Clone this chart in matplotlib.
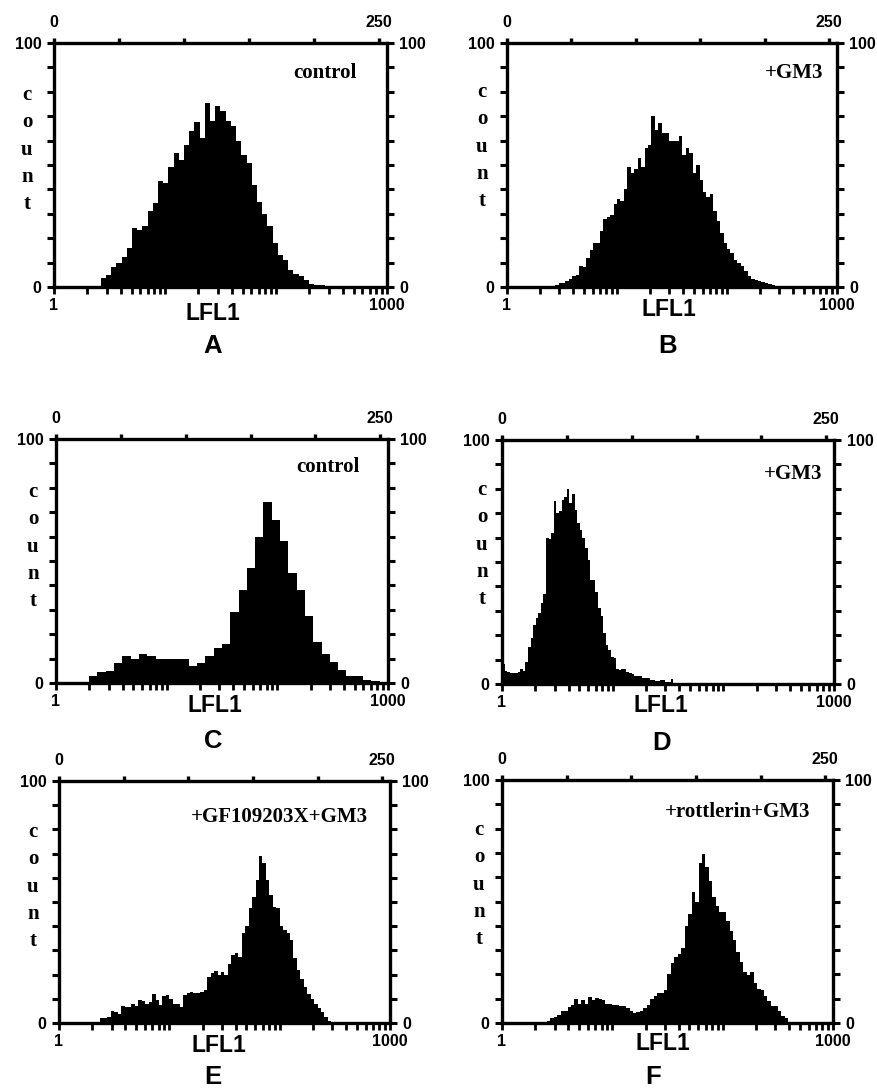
import numpy as np
import matplotlib
matplotlib.use('Agg')
import matplotlib.pyplot as plt

# Flow cytometry histograms, counts on a 0-100 scale.
# Each panel: number of log-spaced bins between 1 and 1000, index of the first
# non-empty bin, and the bin counts from there on.
a_nbins, a_first = 64, 9
a_counts = [3.6, 4.9, 8, 9.7, 12.4, 16, 24, 23.5, 25, 31, 34.5, 43.4, 42.5, 49,
            55, 52, 58, 64, 67.5, 61, 75.5, 68, 74, 72, 68, 66, 60, 54, 51, 42,
            35, 30, 25, 18, 13, 11, 7, 5.5, 4.5, 3, 1.2, 0.9, 0.8, 0.5, 0.3]

b_nbins, b_first = 96, 14
b_counts = [1, 1.8, 1.8, 2.5, 3.1, 4.5, 4.9, 8.5, 8.3, 12, 15, 18.1, 18.1, 23,
            28, 28.8, 29.5, 34, 36, 35.4, 40, 49, 46.6, 48.5, 52.8, 49, 57, 58,
            70, 64.3, 67.4, 63, 63.3, 60, 60, 60, 62, 54, 57, 55, 46.6, 50, 44,
            39, 37, 38, 31, 27, 22, 18, 15.5, 14, 11, 10, 8.5, 6.5, 4.5, 3.2,
            2.8, 2.5, 2, 1.5, 1.2, 0.8, 0.5]

c_nbins, c_first = 40, 4
c_counts = [3, 4.4, 5, 8, 11, 10, 12, 11, 10, 10, 10, 10, 7, 8, 11, 14.5, 16,
            29, 38, 47, 60, 74, 67, 58, 45, 38, 27.5, 17, 12, 8.5, 5.5, 3, 3,
            1.2, 1]

d_nbins, d_first = 128, 0
d_counts = [8, 5.4, 5, 4.6, 4.6, 4.4, 5, 6, 5.4, 9, 15, 19, 24, 26.9, 29, 33,
            37, 59.7, 59.5, 62, 75, 70, 70.7, 75.5, 76.5, 79.8, 74, 77.9, 71.3,
            66, 63, 60, 55.6, 50.8, 42.6, 42.6, 37.8, 31, 28, 20.8, 16, 14, 11,
            10.5, 6, 5.7, 6, 6, 5, 4.4, 4, 3.1, 3.1, 3.1, 2.6, 2.4, 2.4, 1.5,
            1.5, 1.2, 1.2, 1.5, 1.8, 1.0, 0.8, 1.9, 0.5, 0.3]

e_nbins, e_first = 96, 12
e_counts = [1.9, 1.9, 2.5, 5, 4.5, 3.8, 7, 6.5, 6.8, 8, 7, 9.5, 9, 8, 8.5, 12,
            9.5, 7.5, 11, 11.5, 9.8, 8, 8, 6.7, 11.5, 12.5, 13, 12.5, 12.5,
            12.8, 13.6, 19, 20.5, 21.6, 20, 21, 20, 24.5, 28, 29, 27.3, 37, 40,
            47.4, 52, 59, 69, 66, 59, 53, 48, 47.4, 40, 38.6, 37, 34.2, 27, 22,
            18, 15, 12, 10, 8, 6, 4.5, 2.5, 0.8]

f_nbins, f_first = 96, 13
f_counts = [1, 1.9, 2.5, 3.3, 5.1, 5.1, 6.5, 7.5, 9.7, 7.8, 9.5, 8, 10.6, 9.3,
            10.2, 10, 9.3, 8, 7.9, 7.5, 7.4, 7.1, 7, 6, 5, 4, 4.6, 5.1, 6, 7.5,
            10, 11, 12.2, 12.5, 13.6, 20, 24.6, 27.3, 28.5, 31, 40, 45, 54, 50,
            66, 69.5, 64, 58.6, 52, 48, 45.8, 45.8, 42, 38, 34, 29.4, 25, 21,
            19.8, 21, 16.5, 14, 13.6, 11, 9, 7, 7.2, 5, 3, 1.9, 0.5]

panel_letters = ['A', 'B', 'C', 'D', 'E', 'F']
conditions = ['control', '+GM3', 'control', '+GM3',
              '+GF109203X+GM3', '+rottlerin+GM3']
top_ticks = [0, 50, 100, 150, 200, 250]
top_labels = ['0', '', '', '', '', '250']

W, H = 878, 1090
SANS = 'Liberation Sans'
SERIF = 'Liberation Serif'

plt.rcParams['font.family'] = SANS
plt.rcParams['font.weight'] = 'bold'


def px(x, y):
    return x / W, 1 - y / H


# axes boxes in pixels: left, top, right, bottom
boxes = [(54, 43, 387, 287), (507, 43, 837, 287),
         (56, 439, 388, 683), (502, 440, 834, 684),
         (59, 781, 390, 1023), (502, 780, 833, 1023)]
# text anchors in pixels
lfl_pos = [(213, 320), (669, 316), (215, 712), (661, 712), (219, 1052), (663, 1050)]
letter_pos = [(213, 353), (668, 353), (213, 748), (662, 750), (213, 1084), (653, 1084)]
cond_pos = [(357, 78), (823, 78), (360, 472), (822, 479), (368, 822), (810, 817)]
count_pos = [(27, 100), (482, 97), (33, 497), (482, 495), (33, 837), (479, 835)]

data = [(a_nbins, a_first, a_counts), (b_nbins, b_first, b_counts),
        (c_nbins, c_first, c_counts), (d_nbins, d_first, d_counts),
        (e_nbins, e_first, e_counts), (f_nbins, f_first, f_counts)]

fig = plt.figure(figsize=(W / 100, H / 100), dpi=100)

for i, (nbins, first, vals) in enumerate(data):
    l, t, r, b = boxes[i]
    ax = fig.add_axes([l / W, 1 - b / H, (r - l) / W, (b - t) / H])

    counts = np.zeros(nbins)
    counts[first:first + len(vals)] = vals
    edges = np.logspace(0, 3, nbins + 1)
    ax.stairs(counts, edges, fill=True, color='black', baseline=0, linewidth=0)

    ax.set_xscale('log')
    ax.set_xlim(1, 1000)
    ax.set_ylim(0, 100)
    for s in ax.spines.values():
        s.set_linewidth(2.4)

    # bottom log axis
    ax.set_xticks([1, 10, 100, 1000])
    ax.set_xticklabels(['1', '', '', '1000'])
    ax.xaxis.set_minor_locator(matplotlib.ticker.LogLocator(base=10, subs=range(2, 10)))
    ax.xaxis.set_minor_formatter(matplotlib.ticker.NullFormatter())
    ax.tick_params(axis='x', which='both', direction='out', length=5, width=2,
                   labelsize=11.5, pad=3)

    # count axes on both sides
    ax.set_yticks(np.arange(0, 101, 10))
    ax.set_yticklabels(['0'] + [''] * 9 + ['100'])
    ax.tick_params(axis='y', which='both', direction='out', length=5, width=2.2,
                   left=True, right=True, labelleft=True, labelright=True,
                   labelsize=11.5, pad=4)

    # channel axis on top
    top = ax.twiny()
    top.set_xlim(0, 256)
    top.set_xticks(top_ticks)
    top.set_xticklabels(top_labels)
    top.tick_params(axis='x', direction='out', length=3.5, width=2.4,
                    labelsize=11.5, pad=6)
    for s in top.spines.values():
        s.set_visible(False)

    for lab in ax.get_xticklabels() + ax.get_yticklabels() + top.get_xticklabels():
        lab.set_fontweight('bold')

    fig.text(*px(*lfl_pos[i]), 'LFL1', ha='center', va='baseline',
             fontsize=16.5, fontweight='bold', family=SANS)
    fig.text(*px(*letter_pos[i]), panel_letters[i], ha='center', va='baseline',
             fontsize=18.5, fontweight='bold', family=SANS)
    fig.text(*px(*cond_pos[i]), conditions[i], ha='right', va='baseline',
             fontsize=15, fontweight='bold', family=SERIF)
    cx, cy = count_pos[i]
    for j, ch in enumerate('count'):
        fig.text(*px(cx, cy + j * 27.3), ch, ha='center', va='baseline',
                 fontsize=15, fontweight='bold', family=SERIF)

fig.savefig('out.png', dpi=100)
